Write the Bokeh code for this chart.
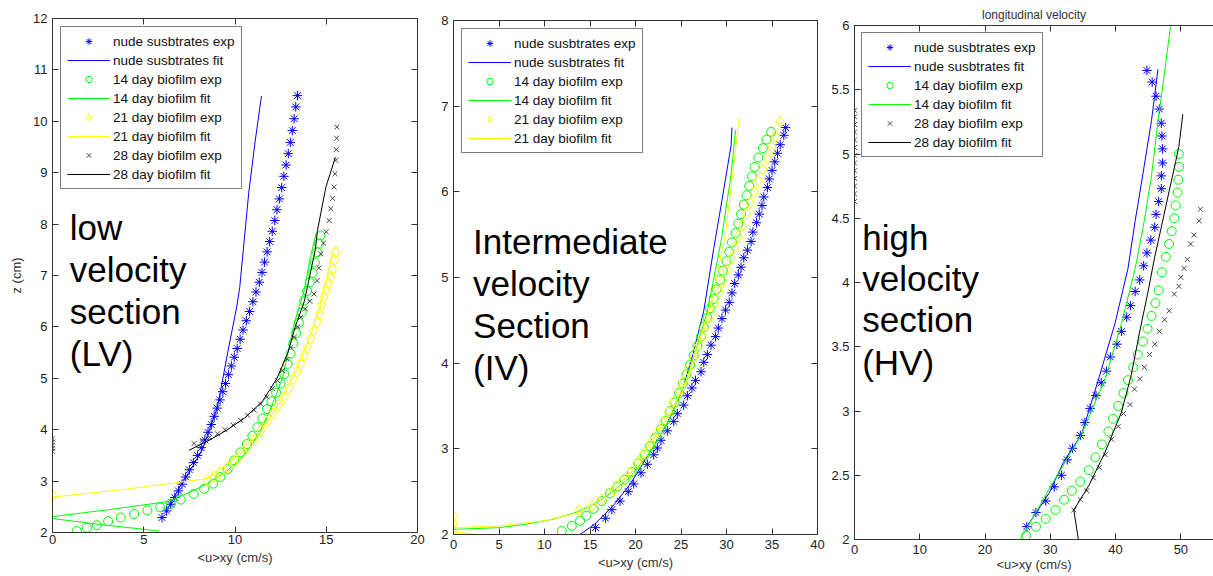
from bokeh.plotting import figure
from bokeh.layouts import row
from bokeh.models import Range1d, FixedTicker, LinearAxis, Label, CustomJSTickFormatter
from bokeh.embed import file_html
from bokeh.resources import INLINE

# ---------------- data ----------------
legend_labels = ["nude susbtrates exp", "nude susbtrates fit",
                 "14 day biofilm exp", "14 day biofilm fit",
                 "21 day biofilm exp", "21 day biofilm fit",
                 "28 day biofilm exp", "28 day biofilm fit"]
x_label = "<u>xy (cm/s)"
y_label = "z (cm)"
title_hv = "longitudinal velocity"
section_lv = ["low", "velocity", "section", "(LV)"]
section_iv = ["Intermediate", "velocity", "Section", "(IV)"]
section_hv = ["high", "velocity", "section", "(HV)"]

lv_xticks = [0, 5, 10, 15, 20]
lv_yticks = [2, 3, 4, 5, 6, 7, 8, 9, 10, 11, 12]
iv_xticks = [0, 5, 10, 15, 20, 25, 30, 35, 40]
iv_yticks = [2, 3, 4, 5, 6, 7, 8]
hv_xticks = [0, 10, 20, 30, 40, 50]
hv_yticks = [2, 2.5, 3, 3.5, 4, 4.5, 5, 5.5, 6]

# low velocity section
lv_nude_exp_u = [6.00, 6.25, 6.48, 6.70, 6.90, 7.10, 7.30, 7.50, 7.72, 7.95, 8.15, 8.35, 8.52,
                 8.70, 8.86, 9.02, 9.18, 9.33, 9.48, 9.64, 9.80, 9.96, 10.12, 10.28, 10.44,
                 10.62, 10.80, 10.98, 11.15, 11.33, 11.48, 11.62, 11.76, 11.90, 12.04,
                 12.18, 12.30, 12.43, 12.56, 12.68, 12.80, 12.92, 13.03, 13.14, 13.24, 13.33, 13.42]
lv_nude_exp_z = [2.29, 2.42, 2.55, 2.68, 2.81, 2.94, 3.08, 3.22, 3.36, 3.50, 3.65, 3.80, 3.95,
                 4.10, 4.26, 4.42, 4.58, 4.74, 4.90, 5.07, 5.24, 5.41, 5.58, 5.76, 5.94,
                 6.12, 6.30, 6.49, 6.68, 6.87, 7.06, 7.26, 7.46, 7.66, 7.86,
                 8.07, 8.28, 8.49, 8.71, 8.93, 9.15, 9.37, 9.59, 9.82, 10.05, 10.28, 10.50]
lv_nude_fit_u = [6.3, 7.0, 7.7, 8.2, 8.6, 9.04, 9.6, 10.1, 10.26, 10.75, 11.1, 11.45]
lv_nude_fit_z = [2.45, 2.9, 3.3, 3.6, 4.0, 4.44, 5.5, 6.4, 6.77, 8.6, 9.6, 10.49]

lv_b14_exp_u = [1.33, 1.88, 2.43, 3.05, 3.74, 4.47, 5.2, 5.9, 6.48, 7.03, 7.73, 8.31,
                8.8, 9.2, 9.6, 9.95, 10.3, 10.65, 10.95, 11.23, 11.5, 11.75, 12.0, 12.25,
                12.5, 12.7, 12.88, 13.05, 13.2, 13.35, 13.5, 13.65, 13.79, 13.95, 14.1,
                14.25, 14.38, 14.5, 14.6, 14.68]
lv_b14_exp_z = [2.03, 2.09, 2.14, 2.22, 2.29, 2.36, 2.43, 2.49, 2.56, 2.64, 2.75, 2.85,
                2.95, 3.08, 3.23, 3.4, 3.56, 3.72, 3.88, 4.05, 4.22, 4.4, 4.55, 4.72,
                4.9, 5.08, 5.28, 5.48, 5.68, 5.88, 6.08, 6.28, 6.51, 6.7, 6.87,
                7.05, 7.25, 7.45, 7.62, 7.78]
lv_b14_fit_u = [5.84, 3.0, 0.0, 0.0, 3.0, 6.3, 7.5, 8.5, 9.5, 10.5, 11.3, 12.0, 12.6, 13.24, 13.79, 14.1, 14.43]
lv_b14_fit_z = [2.03, 2.14, 2.27, 2.31, 2.44, 2.6, 2.78, 2.95, 3.18, 3.5, 3.9, 4.45, 5.0, 6.06, 6.71, 7.3, 7.81]

lv_b21_exp_u = [0.0, 8.49, 8.85, 9.2, 9.6, 9.95, 10.3, 10.7, 11.05, 11.41, 11.75, 12.1, 12.4,
                12.69, 12.95, 13.2, 13.4, 13.6, 13.8, 13.98, 14.15, 14.33, 14.5, 14.62, 14.75,
                14.88, 15.0, 15.12, 15.25, 15.35, 15.45, 15.52]
lv_b21_exp_z = [2.72, 3.01, 3.09, 3.17, 3.27, 3.37, 3.5, 3.65, 3.8, 3.98, 4.15, 4.32, 4.48,
                4.63, 4.8, 4.98, 5.13, 5.28, 5.45, 5.6, 5.77, 5.93, 6.1, 6.25, 6.42,
                6.58, 6.72, 6.85, 6.97, 7.12, 7.3, 7.45]
lv_b21_fit_u = [0.0, 4.0, 8.49, 9.5, 10.5, 11.5, 12.5, 13.3, 14.0, 14.6, 15.0, 15.3]
lv_b21_fit_z = [2.69, 2.84, 3.05, 3.3, 3.6, 4.0, 4.55, 5.1, 5.7, 6.3, 6.9, 7.4]

lv_b28_exp_u = [0.0, 0.0, 0.0, 0.0, 0.0,
                7.76, 8.2, 8.6, 9.04, 9.45, 9.9, 10.32, 10.7, 11.05, 11.41, 11.75, 12.05,
                12.33, 12.6, 12.85, 13.06, 13.25, 13.43, 13.6, 13.85, 14.1, 14.33, 14.5,
                14.6, 14.7, 14.85, 15.0, 15.16, 15.25, 15.35, 15.43, 15.48, 15.52, 15.55,
                15.57, 15.58]
lv_b28_exp_z = [3.58, 3.64, 3.70, 3.76, 3.82,
                3.73, 3.79, 3.85, 3.92, 4.0, 4.09, 4.18, 4.28, 4.38, 4.5, 4.64, 4.8,
                4.96, 5.15, 5.37, 5.6, 5.8, 6.0, 6.19, 6.35, 6.5, 6.64, 6.9,
                7.15, 7.42, 7.63, 7.85, 8.07, 8.3, 8.5, 8.72, 8.98, 9.24, 9.45,
                9.67, 9.89]
lv_b28_fit_u = [7.48, 8.5, 9.5, 10.5, 11.5, 12.3, 12.9, 13.3, 13.8, 14.1, 14.4, 14.52, 14.98, 15.5]
lv_b28_fit_z = [3.6, 3.78, 3.98, 4.22, 4.55, 5.0, 5.5, 6.0, 6.5, 7.0, 7.5, 7.88, 8.72, 9.3]

# intermediate velocity section
iv_nude_exp_u = [15.6, 16.7, 17.4, 18.3, 19.2, 19.8, 20.6, 21.3, 22.0, 22.4, 22.8, 23.5, 24.2, 24.6,
                 25.3, 25.7, 26.2, 26.6, 27.2, 27.5, 27.9, 28.3, 28.8, 29.1, 29.5, 29.9,
                 30.3, 30.6, 30.9, 31.3, 31.6, 31.9, 32.3, 32.7, 32.9, 33.3, 33.6, 33.9,
                 34.1, 34.5, 34.7, 35.0, 35.3, 35.6, 35.9, 36.3, 36.5]
iv_nude_exp_z = [2.08, 2.19, 2.29, 2.39, 2.50, 2.59, 2.72, 2.82, 2.93, 3.01, 3.10, 3.21, 3.32, 3.41,
                 3.51, 3.62, 3.71, 3.80, 3.90, 4.01, 4.10, 4.21, 4.31, 4.41, 4.52, 4.62,
                 4.71, 4.82, 4.93, 5.03, 5.12, 5.23, 5.32, 5.42, 5.53, 5.64, 5.74, 5.84,
                 5.94, 6.05, 6.15, 6.25, 6.35, 6.45, 6.55, 6.66, 6.75]
iv_nude_fit_u = [13.9, 15.5, 17.5, 19.5, 21.5, 23.5, 25.2, 26.3, 27.5, 28.6, 29.5, 30.5, 30.6]
iv_nude_fit_z = [2.0, 2.12, 2.33, 2.6, 2.95, 3.3, 3.7, 4.1, 4.61, 5.34, 5.9, 6.54, 6.75]

iv_b14_exp_u = [11.9, 13.0, 13.9, 14.6, 15.4, 16.3, 17.2, 18.0, 18.8, 19.6, 20.3, 21.0, 21.6,
                22.2, 22.8, 23.3, 23.8, 24.3, 24.8, 25.2, 25.6, 26.0, 26.4, 26.8, 27.2,
                27.5, 27.9, 28.2, 28.6, 28.9, 29.3, 29.6, 30.0, 30.3, 30.6, 31.0, 31.3,
                31.6, 31.9, 32.2, 32.5, 32.8, 33.1, 33.5, 34.0, 34.4, 34.9]
iv_b14_exp_z = [2.04, 2.10, 2.16, 2.22, 2.30, 2.39, 2.48, 2.56, 2.64, 2.73, 2.83, 2.93, 3.03,
                3.13, 3.23, 3.33, 3.44, 3.54, 3.65, 3.76, 3.87, 3.98, 4.09, 4.2, 4.31,
                4.42, 4.53, 4.64, 4.75, 4.86, 4.97, 5.08, 5.19, 5.3, 5.41, 5.52, 5.63,
                5.74, 5.85, 5.96, 6.07, 6.18, 6.29, 6.4, 6.51, 6.61, 6.7]
iv_b14_fit_u = [0.0, 5.0, 8.0, 11.0, 13.5, 15.5, 17.5, 19.5, 21.5, 23.5, 25.2, 26.5, 27.9, 29.4, 30.5, 31.0]
iv_b14_fit_z = [2.06, 2.08, 2.12, 2.18, 2.26, 2.36, 2.5, 2.68, 2.95, 3.3, 3.7, 4.1, 4.61, 5.42, 6.2, 6.72]

iv_b21_exp_u = [0.0, 0.0, 0.0,
                13.8, 15.2, 16.3, 17.6, 18.5, 19.4, 20.3, 21.0, 21.7, 22.4, 23.0, 23.6,
                24.2, 24.8, 25.3, 25.8, 26.3, 26.8, 27.3, 27.8, 28.3, 28.7, 29.2, 29.6,
                30.0, 30.5, 30.9, 31.3, 31.8, 32.2, 32.6, 33.1, 33.5, 34.0, 34.5, 35.0,
                35.4, 35.9]
iv_b21_exp_z = [2.05, 2.13, 2.21,
                2.28, 2.33, 2.41, 2.52, 2.62, 2.72, 2.84, 2.95, 3.07, 3.19, 3.31, 3.43,
                3.55, 3.68, 3.8, 3.93, 4.05, 4.18, 4.31, 4.44, 4.57, 4.7, 4.83, 4.96,
                5.09, 5.22, 5.35, 5.48, 5.61, 5.74, 5.87, 6.0, 6.13, 6.26, 6.39, 6.52,
                6.65, 6.82]
iv_b21_fit_u = [2.8, 0.0, 0.0, 5.0, 10.0, 13.9, 16.0, 18.0, 20.0, 22.0, 24.0, 25.7, 27.0, 28.3, 29.9, 30.8, 31.4]
iv_b21_fit_z = [2.0, 2.03, 2.08, 2.1, 2.16, 2.26, 2.4, 2.55, 2.8, 3.12, 3.45, 3.83, 4.25, 4.69, 5.51, 6.32, 6.86]

# high velocity section
hv_nude_exp_u = [26.4, 27.8, 29.3, 30.6, 31.7, 32.6, 33.4, 34.6, 35.3, 36.1, 37.0, 37.8, 38.6,
                 39.2, 40.2, 40.9, 41.7, 42.3, 43.0, 43.7, 44.3, 44.8, 45.4, 46.0, 46.2,
                 46.6, 47.0, 47.0, 47.2, 47.2, 47.1, 47.0, 46.7, 46.2, 45.6, 44.8]
hv_nude_exp_z = [2.10, 2.21, 2.30, 2.41, 2.50, 2.62, 2.71, 2.81, 2.91, 3.02, 3.12, 3.22, 3.31,
                 3.42, 3.52, 3.62, 3.73, 3.82, 3.93, 4.02, 4.13, 4.23, 4.33, 4.43, 4.53,
                 4.63, 4.73, 4.83, 4.93, 5.04, 5.14, 5.24, 5.35, 5.45, 5.56, 5.65]
hv_nude_fit_u = [26.4, 29.8, 32.0, 34.8, 37.4, 39.9, 41.9, 43.0, 44.4, 45.5, 46.5]
hv_nude_fit_z = [2.10, 2.36, 2.6, 2.82, 3.25, 3.68, 4.11, 4.48, 4.91, 5.26, 5.66]

hv_b14_exp_u = [26.3, 27.8, 29.3, 30.8, 32.1, 33.3, 34.6, 35.9, 36.9, 37.9, 38.9, 39.6, 40.4,
                41.2, 41.9, 42.7, 43.4, 44.2, 44.9, 45.5, 46.1, 46.6, 47.1, 47.7, 48.2,
                48.6, 49.0, 49.2, 49.5, 49.6, 49.7, 49.7]
hv_b14_exp_z = [2.03, 2.10, 2.16, 2.23, 2.31, 2.38, 2.45, 2.54, 2.64, 2.74, 2.84, 2.94, 3.04,
                3.14, 3.24, 3.34, 3.44, 3.54, 3.64, 3.74, 3.84, 3.94, 4.08, 4.20, 4.30,
                4.40, 4.50, 4.60, 4.70, 4.80, 4.90, 5.00]
hv_b14_fit_u = [25.4, 29.8, 34.8, 38.4, 40.9, 43.0, 44.4, 45.5, 46.5, 47.5, 48.4, 48.5]
hv_b14_fit_z = [2.0, 2.39, 2.82, 3.25, 3.68, 4.11, 4.48, 4.83, 5.26, 5.63, 5.99, 6.05]

hv_b28_exp_u = [0.0, 0.0, 0.0, 0.0, 0.0, 0.0, 0.0, 0.0, 0.0, 0.0, 0.0, 0.0, 0.0,
                33.6, 34.6, 35.6, 36.6, 37.5, 38.4, 39.4, 40.4, 41.2, 42.2, 42.9, 43.7,
                44.4, 45.2, 46.0, 46.7, 47.5, 48.2, 49.0, 49.7, 50.0, 50.5, 51.0, 51.5,
                52.0, 52.8, 53.0]
hv_b28_exp_z = [4.63, 4.69, 4.75, 4.81, 4.87, 4.93, 4.99, 5.05, 5.11, 5.17, 5.23, 5.29, 5.34,
                2.23, 2.31, 2.38, 2.48, 2.56, 2.66, 2.78, 2.88, 2.98, 3.05, 3.17, 3.25,
                3.34, 3.44, 3.52, 3.62, 3.71, 3.78, 3.91, 3.97, 4.04, 4.11, 4.18, 4.30,
                4.37, 4.48, 4.57]
hv_b28_fit_u = [34.3, 33.6, 35.9, 38.4, 40.9, 42.4, 43.7, 44.9, 46.0, 47.0, 48.2, 49.2, 49.7, 50.3]
hv_b28_fit_z = [2.0, 2.23, 2.42, 2.68, 2.99, 3.28, 3.62, 3.91, 4.2, 4.43, 4.71, 4.94, 5.06, 5.31]

# ---------------- styling ----------------
FONT = "Liberation Sans"
BLUE, GREEN, YELLOW, BLACK = "#0000ff", "#00ff00", "#ffff00", "#000000"
XGRAY = "#444444"
AXC = "#333333"
H = 576


def make_fig(width, xr, yr, xticks, yticks, mbl, mbr, mbt, mbb, right_axis=True):
    p = figure(width=width, height=H, x_range=Range1d(*xr), y_range=Range1d(*yr),
               output_backend="svg", toolbar_location=None,
               min_border_left=mbl, min_border_right=mbr,
               min_border_top=mbt, min_border_bottom=mbb)
    p.frame_align = False
    p.xgrid.visible = False
    p.ygrid.visible = False
    p.outline_line_color = None
    p.background_fill_color = "white"
    p.border_fill_color = "white"
    hidden = []
    top = LinearAxis()
    p.add_layout(top, "above")
    hidden.append(top)
    if right_axis:
        right = LinearAxis()
        p.add_layout(right, "right")
        hidden.append(right)
    for ax in p.xaxis:
        ax.ticker = FixedTicker(ticks=xticks)
    for ax in p.yaxis:
        ax.ticker = FixedTicker(ticks=yticks)
    for ax in p.axis:
        ax.axis_line_color = AXC
        ax.axis_line_width = 1
        ax.major_tick_line_color = AXC
        ax.major_tick_in = 6
        ax.major_tick_out = 0
        ax.minor_tick_line_color = None
        ax.major_label_text_font = FONT
        ax.major_label_text_font_size = "13px"
        ax.major_label_text_color = "#222222"
        ax.axis_label_text_font = FONT
        ax.axis_label_text_font_size = "13px"
        ax.axis_label_text_font_style = "normal"
        ax.axis_label_text_color = "#333333"
    for ax in hidden:
        ax.formatter = CustomJSTickFormatter(code="return '';")
        ax.major_label_text_font_size = "0px"
        ax.major_label_standoff = 0
    p.below[0].major_label_standoff = 5
    p.left[0].major_label_standoff = 5
    return p


def add_series(p, series, labels, colors):
    markers = ["asterisk", None, "circle", None, "diamond", None, "x", None]
    sizes = [9.5, 0, 9, 0, 12, 0, 7, 0]
    for (u, z, idx) in series:
        c = colors[idx]
        if markers[idx] is None:
            p.line(u, z, line_color=c, line_width=1, legend_label=labels[idx])
        else:
            p.scatter(u, z, marker=markers[idx], size=sizes[idx],
                      line_color=c, fill_color=None, line_width=1,
                      legend_label=labels[idx])


def style_legend(p, margin):
    leg = p.legend[0]
    leg.location = "top_left"
    leg.margin = margin
    leg.padding = 6
    leg.spacing = 3
    leg.label_height = 16
    leg.glyph_height = 16
    leg.glyph_width = 43
    leg.label_standoff = 3
    leg.label_text_font = FONT
    leg.label_text_font_size = "13.5px"
    leg.label_text_color = "#111111"
    leg.border_line_color = "#000000"
    leg.border_line_width = 1
    leg.background_fill_color = "white"
    leg.background_fill_alpha = 1.0


def add_section(p, lines, x, ys):
    for t, y in zip(lines, ys):
        p.add_layout(Label(x=x, y=y, text=t, text_font=FONT, text_font_size="35px",
                           text_color="black", text_baseline="alphabetic", text_align="left"))


colors = [BLUE, BLUE, GREEN, GREEN, YELLOW, YELLOW, XGRAY, BLACK]

# ---- panel 1: LV
p1 = make_fig(429, (0, 20), (2, 12), lv_xticks, lv_yticks, 52, 12, 18, 44)
p1.below[0].major_label_standoff = 2
p1.below[0].axis_label = x_label
p1.below[0].axis_label_standoff = 3
p1.left[0].axis_label = y_label
p1.left[0].axis_label_standoff = 6
add_series(p1, [(lv_nude_exp_u, lv_nude_exp_z, 0), (lv_nude_fit_u, lv_nude_fit_z, 1),
                (lv_b14_exp_u, lv_b14_exp_z, 2), (lv_b14_fit_u, lv_b14_fit_z, 3),
                (lv_b21_exp_u, lv_b21_exp_z, 4), (lv_b21_fit_u, lv_b21_fit_z, 5),
                (lv_b28_exp_u, lv_b28_exp_z, 6), (lv_b28_fit_u, lv_b28_fit_z, 7)],
           legend_labels, colors)
style_legend(p1, 8)
add_section(p1, section_lv, 0.95, [7.94, 7.12, 6.30, 5.49])

# ---- panel 2: IV
p2 = make_fig(399, (0, 40), (2, 8), iv_xticks, iv_yticks, 24, 11, 20, 42)
p2.below[0].axis_label = x_label
p2.below[0].axis_label_standoff = 3
add_series(p2, [(iv_nude_exp_u, iv_nude_exp_z, 0), (iv_nude_fit_u, iv_nude_fit_z, 1),
                (iv_b14_exp_u, iv_b14_exp_z, 2), (iv_b14_fit_u, iv_b14_fit_z, 3),
                (iv_b21_exp_u, iv_b21_exp_z, 4), (iv_b21_fit_u, iv_b21_fit_z, 5)],
           legend_labels, colors)
style_legend(p2, 8)
add_section(p2, section_iv, 2.15, [5.42, 4.93, 4.44, 3.95])

# ---- panel 3: HV
p3 = make_fig(385, (0, 55), (2, 6), hv_xticks, hv_yticks, 24, 0, 25, 37, right_axis=False)
p3.left[0].formatter = CustomJSTickFormatter(code="return String(tick);")
p3.below[0].axis_label = x_label
p3.below[0].axis_label_standoff = 0
p3.title.text = title_hv
p3.title.align = "center"
p3.title.text_font = FONT
p3.title.text_font_size = "12px"
p3.title.text_font_style = "normal"
p3.title.text_color = "#333333"
p3.title.standoff = 8
add_series(p3, [(hv_nude_exp_u, hv_nude_exp_z, 0), (hv_nude_fit_u, hv_nude_fit_z, 1),
                (hv_b14_exp_u, hv_b14_exp_z, 2), (hv_b14_fit_u, hv_b14_fit_z, 3),
                (hv_b28_exp_u, hv_b28_exp_z, 6), (hv_b28_fit_u, hv_b28_fit_z, 7)],
           legend_labels, colors)
style_legend(p3, 7)
add_section(p3, section_hv, 1.18, [4.35, 4.03, 3.71, 3.38])

layout = row(p1, p2, p3)
open("out.html", "w").write(file_html(layout, INLINE))
